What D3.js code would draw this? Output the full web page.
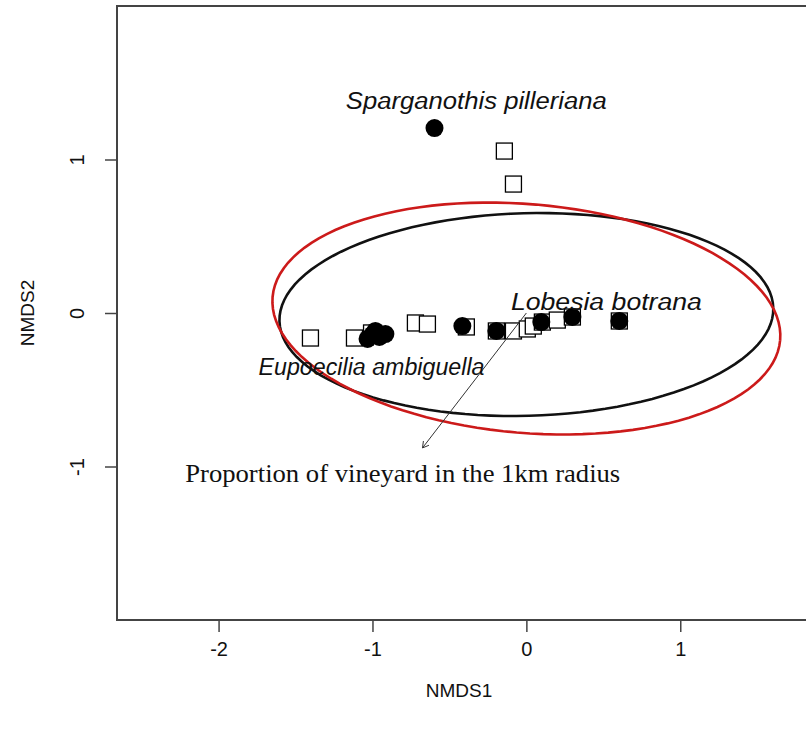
<!DOCTYPE html>
<html>
<head>
<meta charset="utf-8">
<script src="https://cdn.jsdelivr.net/npm/d3@7"></script>
<style>
  body { margin: 0; background: #fff; }
</style>
</head>
<body>
<div id="nmds"></div>
<script>
// NMDS site scores: open squares and filled circles
const squareX = [-1.403, -1.117, -1.006, -0.721, -0.643, -0.390, -0.195, -0.084, 0.006, 0.045, 0.104, 0.201, 0.299, 0.604, -0.143, -0.084];
const squareY = [-0.163, -0.163, -0.130, -0.065, -0.072, -0.091, -0.117, -0.117, -0.104, -0.085, -0.059, -0.046, -0.026, -0.052, 1.055, 0.840];
const circleX = [-0.597, -1.032, -0.981, -0.916, -0.955, -1.000, -0.416, -0.195, 0.097, 0.299, 0.604];
const circleY = [1.205, -0.169, -0.117, -0.137, -0.156, -0.140, -0.085, -0.117, -0.059, -0.026, -0.052];

// species scores
const species = ["Sparganothis pilleriana", "Lobesia botrana", "Eupoecilia ambiguella"];
const speciesX = [-0.325, 0.52, -1.006];
const speciesY = [1.38, 0.07, -0.35];

// environmental vector
const envLabel = "Proportion of vineyard in the 1km radius";
const envArrow = [-0.675, -0.879];

// ellipses: centre x, centre y, semi axis a, semi axis b, angle (rad)
const ellipseNames = ["black", "red"];
const ellipseCx = [0.0, 0.0];
const ellipseCy = [-0.01, -0.036];
const ellipseA = [1.605, 1.655];
const ellipseB = [0.66, 0.745];
const ellipseAngle = [0.027, -0.085];

const xTicks = [-2, -1, 0, 1];
const yTicks = [-1, 0, 1];

const W = 806, H = 729;
const box = {left: 117, top: 6, right: 808, bottom: 620};
const speciesWidth = [261, 191, 226];

const svg = d3.select("#nmds")
    .append("svg")
    .attr("width", W)
    .attr("height", H);

const x = d3.scaleLinear().domain([-2.66, 1.83]).range([box.left, box.right]);
const y = d3.scaleLinear().domain([-2, 2]).range([box.bottom, box.top]);

const fmt = d => d < 0 ? "-" + Math.abs(d) : d;

// axes (R style: ticks only, box drawn separately)
const xAxis = svg.append("g")
    .attr("transform", `translate(0,${box.bottom})`)
    .call(d3.axisBottom(x).tickValues(xTicks).tickSize(12).tickPadding(10));
xAxis.select(".domain").remove();
xAxis.selectAll("line").attr("stroke", "#444").attr("stroke-width", 1.5);
xAxis.selectAll("text")
    .attr("font-family", "Liberation Sans, Arial, sans-serif")
    .attr("font-size", 20)
    .attr("fill", "#111")
    .text(fmt);

const yAxis = svg.append("g")
    .attr("transform", `translate(${box.left},0)`)
    .call(d3.axisLeft(y).tickValues(yTicks).tickSize(12));
yAxis.select(".domain").remove();
yAxis.selectAll("line").attr("stroke", "#444").attr("stroke-width", 1.5);
yAxis.selectAll("text").remove();
yAxis.selectAll(".tick").append("text")
    .attr("transform", "translate(-33,0) rotate(-90)")
    .attr("text-anchor", "middle")
    .attr("font-family", "Liberation Sans, Arial, sans-serif")
    .attr("font-size", 20)
    .attr("fill", "#111")
    .text(fmt);

// plot box
svg.append("rect")
    .attr("x", box.left)
    .attr("y", box.top)
    .attr("width", box.right - box.left)
    .attr("height", box.bottom - box.top)
    .attr("fill", "none")
    .attr("stroke", "#444")
    .attr("stroke-width", 2);

// axis titles
svg.append("text")
    .attr("x", 459)
    .attr("y", 697)
    .attr("text-anchor", "middle")
    .attr("font-family", "Liberation Sans, Arial, sans-serif")
    .attr("font-size", 19)
    .attr("fill", "#111")
    .text("NMDS1");

svg.append("text")
    .attr("transform", `translate(34,${y(0)}) rotate(-90)`)
    .attr("text-anchor", "middle")
    .attr("font-family", "Liberation Sans, Arial, sans-serif")
    .attr("font-size", 19)
    .attr("fill", "#111")
    .text("NMDS2");

const plot = svg.append("g");

// sites: squares under circles
const side = 16;
plot.selectAll("rect.site")
    .data(d3.range(squareX.length))
    .join("rect")
    .attr("class", "site")
    .attr("x", i => x(squareX[i]) - side / 2)
    .attr("y", i => y(squareY[i]) - side / 2)
    .attr("width", side)
    .attr("height", side)
    .attr("fill", "#fff")
    .attr("stroke", "#000")
    .attr("stroke-width", 1.3);

plot.selectAll("circle.site")
    .data(d3.range(circleX.length))
    .join("circle")
    .attr("class", "site")
    .attr("cx", i => x(circleX[i]))
    .attr("cy", i => y(circleY[i]))
    .attr("r", 9)
    .attr("fill", "#000");

// ellipses
const ellipseColor = {black: "#111", red: "#cc1a1a"};
const line = d3.line().x(p => x(p[0])).y(p => y(p[1]));
ellipseNames.forEach((name, i) => {
    const pts = d3.range(0, 361, 3).map(deg => {
        const t = deg * Math.PI / 180;
        const ex = ellipseA[i] * Math.cos(t), ey = ellipseB[i] * Math.sin(t);
        const c = Math.cos(ellipseAngle[i]), s = Math.sin(ellipseAngle[i]);
        return [ellipseCx[i] + ex * c - ey * s, ellipseCy[i] + ex * s + ey * c];
    });
    plot.append("path")
        .attr("d", line(pts))
        .attr("fill", "none")
        .attr("stroke", ellipseColor[name])
        .attr("stroke-width", 2.6);
});

// env arrow
const x0 = x(0), y0 = y(0), x1 = x(envArrow[0]), y1 = y(envArrow[1]);
plot.append("line")
    .attr("x1", x0).attr("y1", y0)
    .attr("x2", x1).attr("y2", y1)
    .attr("stroke", "#333")
    .attr("stroke-width", 1);
const ang = Math.atan2(y1 - y0, x1 - x0);
[Math.PI / 6, -Math.PI / 6].forEach(off => {
    plot.append("line")
        .attr("x1", x1).attr("y1", y1)
        .attr("x2", x1 - 7 * Math.cos(ang + off))
        .attr("y2", y1 - 7 * Math.sin(ang + off))
        .attr("stroke", "#333")
        .attr("stroke-width", 1);
});

plot.append("text")
    .attr("x", x(envArrow[0] * 1.19))
    .attr("y", y(envArrow[1] * 1.19))
    .attr("dy", "0.35em")
    .attr("text-anchor", "middle")
    .attr("font-family", "Liberation Serif, Times New Roman, serif")
    .attr("font-size", 25)
    .attr("textLength", 435)
    .attr("lengthAdjust", "spacingAndGlyphs")
    .attr("fill", "#111")
    .text(envLabel);

// species labels
plot.selectAll("text.sp")
    .data(species)
    .join("text")
    .attr("class", "sp")
    .attr("x", (d, i) => x(speciesX[i]))
    .attr("y", (d, i) => y(speciesY[i]))
    .attr("dy", "0.35em")
    .attr("text-anchor", "middle")
    .attr("font-family", "Liberation Sans, Arial, sans-serif")
    .attr("font-style", "italic")
    .attr("font-size", 23)
    .attr("textLength", (d, i) => speciesWidth[i])
    .attr("lengthAdjust", "spacingAndGlyphs")
    .attr("fill", "#111")
    .text(d => d);
</script>
</body>
</html>
